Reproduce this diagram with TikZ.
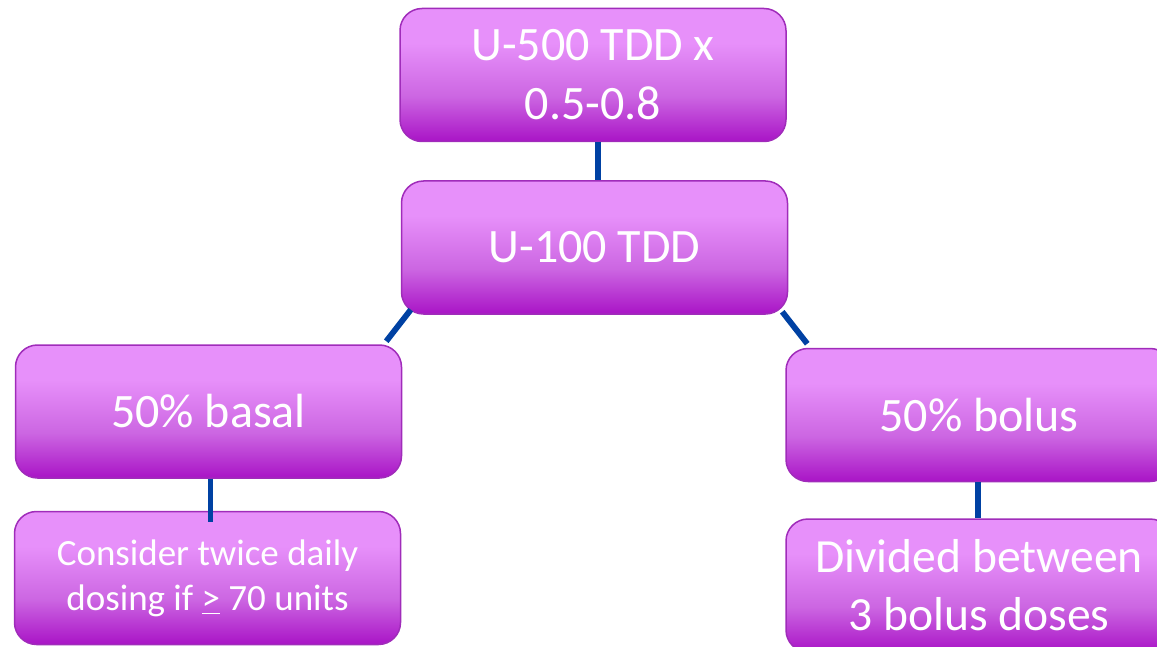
\documentclass[tikz,border=0pt]{standalone}
\usepackage{fontspec}
\setmainfont{Carlito}
\usepackage{tikz}
\usetikzlibrary{positioning}
\usetikzlibrary{calc}

\definecolor{boxtop}{HTML}{E790FA}
\definecolor{boxmid}{HTML}{CC66E2}
\definecolor{boxbot}{HTML}{A914C6}
\definecolor{boxline}{HTML}{A02CBA}
\definecolor{link}{HTML}{0041A3}

% light top, darkening towards the bottom
\pgfdeclareverticalshading{boxshade}{100bp}{color(0bp)=(boxbot); color(25bp)=(boxbot); color(42bp)=(boxmid); color(62bp)=(boxtop); color(100bp)=(boxtop)}

\begin{document}
\begin{tikzpicture}[
            x = 0.5pt, y = -0.5pt, % pixel-like units
            link/.style = {draw = link, line width = 2.9pt},
            semithick
        ]

        \tikzstyle{dose}=[
            draw = boxline,
            line width = 0.75pt,
            shading = boxshade,
            rounded corners = 11pt,
            text = white,
            align = center,
            minimum width = 193pt,
            minimum height = 66.5pt,
            inner sep = 2pt,
            font = \fontsize{24pt}{29.5pt}\selectfont
        ]

        \clip (0,0) rectangle (1157,647);

	% totals
        \node[dose] (U500) at (593,75) {U-500 TDD x\\0.5-0.8};
        \node[dose] (U100) [below = 19pt of U500, xshift = 0.75pt] {U-100 TDD};

        % split
        \node[dose] (BASAL) at (208.5,411.5) {50\% basal};
        \node[dose] (BOLUS) at (979,415) {50\% bolus};

        % notes
        \node[dose, font = \fontsize{18.5pt}{22.5pt}\selectfont] (TWICE) [below = 16pt of BASAL, xshift = -0.5pt] {Consider twice daily\\dosing if \underline{>} 70 units};
        \node[dose, font = \fontsize{23.8pt}{29pt}\selectfont] (DIVIDED) [below = 18pt of BOLUS] {Divided between\\3 bolus doses};

        % connector feet
        \coordinate (u500foot) at ($(U500.south)+(5,0)$);
        \coordinate (basalfoot) at ($(BASAL.south)+(2,0)$);
        \coordinate (twicetop) at ($(basalfoot |- TWICE.north)+(0,11)$);
        \coordinate (bolusfoot) at ($(BOLUS.south)+(-1,0)$);

        \path[link] (u500foot) -- (u500foot |- U100.north);
        \path[link] ($(U100.south west)+(10,-5)$) -- ($(BASAL.north east)+(-16,-3)$);
        \path[link] ($(U100.south east)+(-6,-3)$) -- ($(BOLUS.north west)+(22,-4)$);
        \path[link] (basalfoot) -- (twicetop);
        \path[link] (bolusfoot) -- (bolusfoot |- DIVIDED.north);

  \end{tikzpicture}
\end{document}
